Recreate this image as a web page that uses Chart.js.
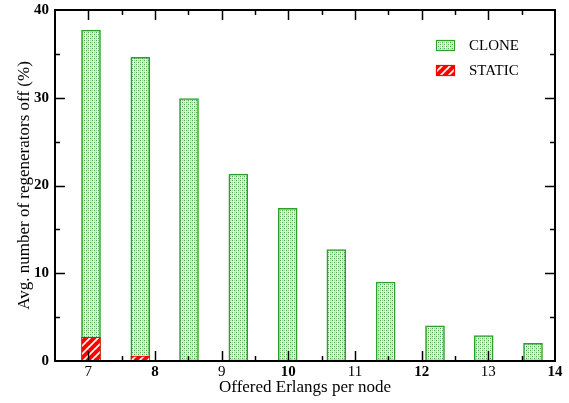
<!DOCTYPE html>
<html>
<head>
<meta charset="utf-8">
<style>
  html, body { margin: 0; padding: 0; background: #fff; }
  #wrap { width: 569px; height: 403px; }
</style>
<script src="https://cdn.jsdelivr.net/npm/chart.js@4.4.1/dist/chart.umd.min.js"></script>
</head>
<body>
<div id="wrap"><canvas id="c" width="569" height="403"></canvas></div>
<script>
// Offered load position of each bar and the measured share of regenerators switched off
const positions = [7.04, 7.78, 8.51, 9.25, 9.99, 10.72, 11.46, 12.2, 12.93, 13.67];
const cloneValues = [37.7, 34.6, 29.9, 21.3, 17.4, 12.7, 9.0, 4.0, 2.9, 2.0];
const staticValues = [2.7, 0.55, 0, 0, 0, 0, 0, 0, 0, 0];
const xTickLabels = [7, 8, 9, 10, 11, 12, 13, 14];
const yTickLabels = [0, 10, 20, 30, 40];

const FONT = "'Liberation Serif', 'Times New Roman', serif";

// Fine green stipple fill
function makeClonePattern() {
  const t = document.createElement('canvas');
  t.width = 4; t.height = 4;
  const g = t.getContext('2d');
  g.fillStyle = '#d3ecce';
  g.fillRect(0, 0, 4, 4);
  g.fillStyle = '#47a847';
  g.fillRect(0, 0, 1, 1);
  g.fillRect(2, 2, 1, 1);
  g.fillStyle = '#9fd49a';
  g.fillRect(2, 0, 1, 1);
  g.fillRect(0, 2, 1, 1);
  g.fillStyle = '#f4fbf3';
  g.fillRect(1, 0, 1, 4);
  return g.createPattern(t, 'repeat');
}

// Red diagonal hatch fill
function makeStaticPattern() {
  const s = 8;
  const t = document.createElement('canvas');
  t.width = s; t.height = s;
  const g = t.getContext('2d');
  g.fillStyle = '#ffffff';
  g.fillRect(0, 0, s, s);
  g.strokeStyle = '#ff0000';
  g.lineWidth = 4;
  g.lineCap = 'square';
  for (const o of [-s, 0, s]) {
    g.beginPath();
    g.moveTo(o, s);
    g.lineTo(o + s, 0);
    g.stroke();
  }
  return g.createPattern(t, 'repeat');
}

const clonePattern = makeClonePattern();
const staticPattern = makeStaticPattern();

// Frame with inward major/minor ticks on all four sides
const framePlugin = {
  id: 'frame',
  afterDatasetsDraw(chart) {
    const { ctx, chartArea: a, scales: { x, y } } = chart;
    ctx.save();
    ctx.strokeStyle = '#000';
    ctx.lineWidth = 1.5;
    const majorLen = 10, minorLen = 5;
    const line = (x1, y1, x2, y2) => { ctx.beginPath(); ctx.moveTo(x1, y1); ctx.lineTo(x2, y2); ctx.stroke(); };
    for (let v = 7; v <= 13; v++) {
      const px = Math.round(x.getPixelForValue(v)) + 0.5;
      line(px, a.bottom, px, a.bottom - majorLen);
      line(px, a.top, px, a.top + majorLen);
    }
    for (let v = 7.5; v < 14; v += 1) {
      const px = Math.round(x.getPixelForValue(v)) + 0.5;
      line(px, a.bottom, px, a.bottom - minorLen);
      line(px, a.top, px, a.top + minorLen);
    }
    for (let v = 10; v <= 30; v += 10) {
      const py = Math.round(y.getPixelForValue(v)) + 0.5;
      line(a.left, py, a.left + majorLen, py);
      line(a.right, py, a.right - majorLen, py);
    }
    for (let v = 5; v < 40; v += 10) {
      const py = Math.round(y.getPixelForValue(v)) + 0.5;
      line(a.left, py, a.left + minorLen, py);
      line(a.right, py, a.right - minorLen, py);
    }
    ctx.lineWidth = 2;
    ctx.strokeRect(a.left, a.top, a.right - a.left, a.bottom - a.top);
    ctx.restore();
  }
};

// Legend drawn inside the plot, top right
const insideLegend = {
  id: 'insideLegend',
  afterDraw(chart) {
    const { ctx, chartArea: a } = chart;
    const items = [chart.data.datasets[1], chart.data.datasets[0]];
    ctx.save();
    ctx.font = '15px ' + FONT;
    ctx.textBaseline = 'middle';
    ctx.fillStyle = '#000';
    items.forEach((ds, i) => {
      const bx = a.right - 119, by = a.top + 30 + i * 25;
      ctx.fillStyle = ds.legendFill;
      ctx.fillRect(bx, by, 19, 11);
      ctx.strokeStyle = ds.borderColor;
      ctx.lineWidth = 1.2;
      ctx.strokeRect(bx + 0.5, by + 0.5, 18, 10);
      ctx.fillStyle = '#000';
      ctx.fillText(ds.label, bx + 33, by + 6);
    });
    ctx.restore();
  }
};

const toPoints = vals => positions.map((p, i) => ({ x: p, y: vals[i] }));

new Chart(document.getElementById('c'), {
  type: 'bar',
  data: {
    datasets: [
      {
        label: 'STATIC',
        data: toPoints(staticValues),
        backgroundColor: staticPattern,
        legendFill: staticPattern,
        borderColor: '#ff0000',
        borderWidth: c => (c.raw && c.raw.y > 0 ? 1 : 0),
        borderSkipped: false,
        barThickness: 19,
        grouped: false
      },
      {
        label: 'CLONE',
        data: toPoints(cloneValues),
        backgroundColor: clonePattern,
        legendFill: clonePattern,
        borderColor: '#2f9e2f',
        borderWidth: 1.5,
        borderSkipped: false,
        barThickness: 19,
        grouped: false
      }
    ]
  },
  options: {
    responsive: false,
    animation: false,
    events: [],
    layout: { padding: { left: 0, top: 10, right: 14, bottom: 0 } },
    plugins: { legend: { display: false }, tooltip: { enabled: false } },
    scales: {
      x: {
        type: 'linear',
        min: 6.5,
        max: 14,
        offset: false,
        grid: { display: false, drawTicks: false },
        border: { display: false },
        afterBuildTicks: s => { s.ticks = xTickLabels.map(v => ({ value: v })); },
        afterFit: s => { s.height = 42; s.paddingLeft = 0; s.paddingRight = 0; },
        ticks: {
          padding: 2,
          color: '#000',
          maxRotation: 0,
          autoSkip: false,
          font: c => ({ family: FONT, size: 15, weight: (c.tick && c.tick.value % 2 === 0) ? 'bold' : 'normal' })
        },
        title: {
          display: true,
          text: 'Offered Erlangs per node',
          color: '#000',
          font: { family: FONT, size: 17 },
          padding: { top: 0, bottom: 5 }
        }
      },
      y: {
        min: 0,
        max: 40,
        grid: { display: false, drawTicks: false },
        border: { display: false },
        afterBuildTicks: s => { s.ticks = yTickLabels.map(v => ({ value: v })); },
        afterFit: s => { s.width = 55; s.paddingTop = 0; s.paddingBottom = 0; },
        ticks: {
          padding: 6,
          color: '#000',
          font: { family: FONT, size: 15, weight: 'bold' }
        },
        title: {
          display: true,
          text: 'Avg. number of regenerators off (%)',
          color: '#000',
          font: { family: FONT, size: 17 },
          padding: { top: 14, bottom: 4 }
        }
      }
    }
  },
  plugins: [framePlugin, insideLegend]
});
</script>
</body>
</html>
